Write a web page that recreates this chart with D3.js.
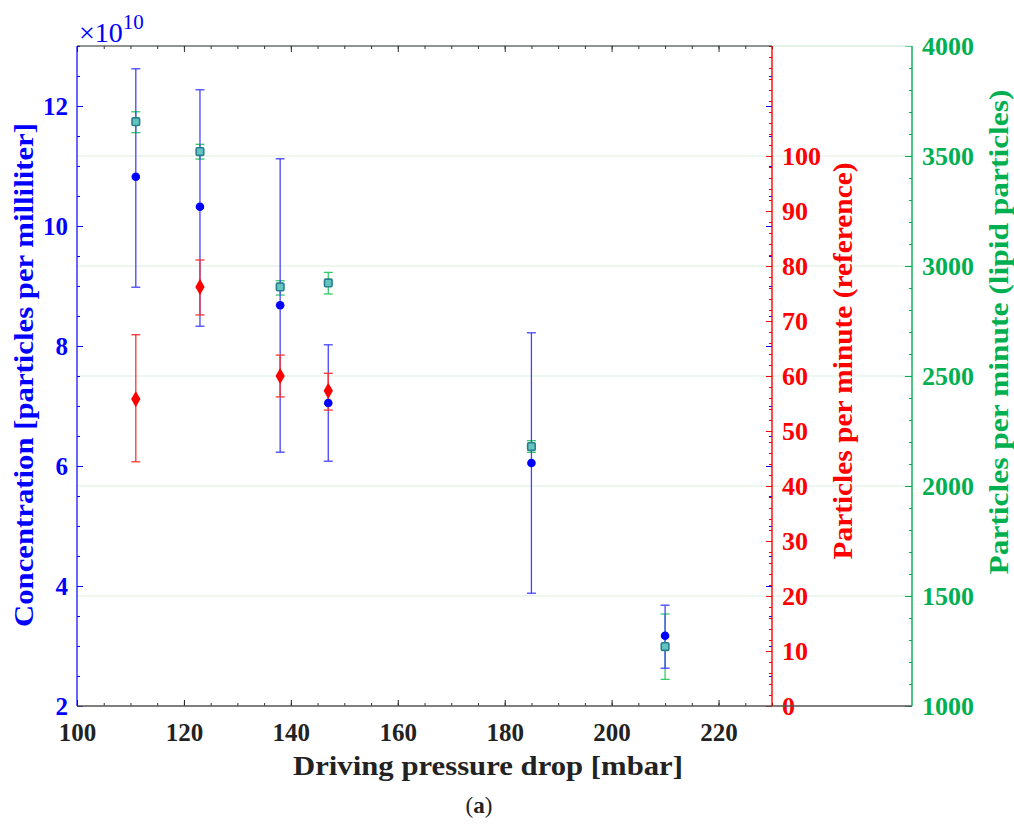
<!DOCTYPE html>
<html><head><meta charset="utf-8">
<script src="https://cdn.jsdelivr.net/npm/d3@7"></script>
<style>body{margin:0;background:#fff}svg{display:block}</style>
</head><body>
<script>
// ---- data ----
const pressure = [111, 123, 138, 147, 185, 210];
const conc   = [10.82, 10.32, 8.68, 7.05, 6.05, 3.17];   // x10^10 particles/ml
const concLo = [8.98, 8.33, 6.23, 6.08, 3.88, 2.63];
const concHi = [12.62, 12.27, 11.12, 8.02, 8.22, 3.68];

const refPressure = [111, 123, 138, 147];
const refRate   = [55.8, 76.2, 60.0, 57.3];
const refRateLo = [44.4, 71.1, 56.2, 53.8];
const refRateHi = [67.5, 81.1, 63.8, 60.5];

const lipidRate   = [3656, 3520, 2905, 2923, 2179, 1270];
const lipidRateLo = [3606, 3486, 2868, 2873, 2153, 1121];
const lipidRateHi = [3701, 3553, 2933, 2971, 2206, 1418];

const xTicks = [100, 120, 140, 160, 180, 200, 220];
const leftTicks = [2, 4, 6, 8, 10, 12];
const redTicks = [0, 10, 20, 30, 40, 50, 60, 70, 80, 90, 100];
const greenTicks = [1000, 1500, 2000, 2500, 3000, 3500, 4000];

// ---- layout ----
const W = 1014, H = 826;
const L = 77, R = 772, G = 912, T = 46, B = 706;
const FONT = "'Liberation Serif', 'DejaVu Serif', serif";
const BLUE = "#0000ff", RED = "#ff0000", GREEN = "#00b050";

const svg = d3.select("body").append("svg").attr("width", W).attr("height", H)
  .style("font-family", FONT);
svg.append("rect").attr("width", W).attr("height", H).attr("fill", "#fff");

const x = d3.scaleLinear().domain([100, 230]).range([L, R]);
const yL = d3.scaleLinear().domain([2, 13]).range([B, T]);
const yR = d3.scaleLinear().domain([0, 120]).range([B, T]);
const yG = d3.scaleLinear().domain([1000, 4000]).range([B, T]);

const range = (a, b, s) => d3.range(a, b + s / 2, s);

// gridlines (green axis majors)
svg.append("g").selectAll("line").data(greenTicks.filter(d => d > 1000)).join("line")
  .attr("x1", L).attr("x2", G).attr("y1", d => yG(d)).attr("y2", d => yG(d))
  .attr("stroke", "#dcefe2").attr("stroke-width", 1.2);

function styleAxis(g, color, fs) {
  g.selectAll("line").attr("stroke", color);
  g.selectAll("path").remove();
  g.selectAll("text").attr("fill", color).attr("font-size", fs).attr("font-weight", "bold")
    .attr("font-family", FONT);
}

// bottom axis
svg.append("g").attr("transform", `translate(0,${B})`)
  .call(d3.axisBottom(x).tickValues(range(100, 230, 5)).tickSize(-3).tickFormat(""))
  .call(g => styleAxis(g, "#333", 0));
svg.append("g").attr("transform", `translate(0,${B})`)
  .call(d3.axisBottom(x).tickValues(xTicks).tickSize(-6).tickPadding(17).tickFormat(d3.format("d")))
  .call(g => styleAxis(g, "#222", "25px"));
// top axis
svg.append("g").attr("transform", `translate(0,${T})`)
  .call(d3.axisTop(x).tickValues(range(100, 230, 5)).tickSize(-3).tickFormat(""))
  .call(g => styleAxis(g, "#333", 0));
svg.append("g").attr("transform", `translate(0,${T})`)
  .call(d3.axisTop(x).tickValues(xTicks).tickSize(-6).tickFormat(""))
  .call(g => styleAxis(g, "#333", 0));

// left axis
svg.append("g").attr("transform", `translate(${L},0)`)
  .call(d3.axisLeft(yL).tickValues(range(2, 13, 0.5)).tickSize(-3).tickFormat(""))
  .call(g => styleAxis(g, BLUE, 0));
svg.append("g").attr("transform", `translate(${L},0)`)
  .call(d3.axisLeft(yL).tickValues(leftTicks).tickSize(-6).tickPadding(9).tickFormat(d3.format("d")))
  .call(g => styleAxis(g, BLUE, "25px"));
// mirrored blue ticks on red axis
svg.append("g").attr("transform", `translate(${R},0)`)
  .call(d3.axisRight(yL).tickValues(range(2.5, 13, 0.5)).tickSize(-3).tickFormat(""))
  .call(g => styleAxis(g, BLUE, 0));
svg.append("g").attr("transform", `translate(${R},0)`)
  .call(d3.axisRight(yL).tickValues(leftTicks.slice(1)).tickSize(-6).tickFormat(""))
  .call(g => styleAxis(g, BLUE, 0));

// red axis
svg.append("g").attr("transform", `translate(${R},0)`)
  .call(d3.axisRight(yR).tickValues(range(0, 120, 2)).tickSize(-3).tickFormat(""))
  .call(g => styleAxis(g, RED, 0));
svg.append("g").attr("transform", `translate(${R},0)`)
  .call(d3.axisRight(yR).tickValues(redTicks).tickSize(-6).tickPadding(10).tickFormat(d3.format("d")))
  .call(g => styleAxis(g, RED, "26px"));

// green axis
svg.append("g").attr("transform", `translate(${G},0)`)
  .call(d3.axisRight(yG).tickValues(range(1000, 4000, 100)).tickSize(-3).tickFormat(""))
  .call(g => styleAxis(g, GREEN, 0));
svg.append("g").attr("transform", `translate(${G},0)`)
  .call(d3.axisRight(yG).tickValues(greenTicks).tickSize(-7).tickPadding(10).tickFormat(d3.format("d")))
  .call(g => styleAxis(g, GREEN, "26px"));

// axis lines
svg.append("line").attr("x1", L).attr("x2", R).attr("y1", T).attr("y2", T).attr("stroke", "#333").attr("stroke-width", 1.2);
svg.append("line").attr("x1", R).attr("x2", G).attr("y1", T).attr("y2", T).attr("stroke", "#dcefe2").attr("stroke-width", 1.2);
svg.append("line").attr("x1", L).attr("x2", G).attr("y1", B).attr("y2", B).attr("stroke", "#555").attr("stroke-width", 1.4);
svg.append("line").attr("x1", L).attr("x2", L).attr("y1", T).attr("y2", B).attr("stroke", BLUE).attr("stroke-width", 1.2);
svg.append("line").attr("x1", R).attr("x2", R).attr("y1", T).attr("y2", B).attr("stroke", RED).attr("stroke-width", 1.4);
svg.append("line").attr("x1", G).attr("x2", G).attr("y1", T).attr("y2", B).attr("stroke", GREEN).attr("stroke-width", 1.4);

// error bars
function errBars(xs, lo, hi, yS, color, w) {
  const g = svg.append("g").attr("stroke", color).attr("stroke-width", w).attr("fill", "none");
  xs.forEach((xv, i) => {
    const cx = x(xv);
    g.append("line").attr("x1", cx).attr("x2", cx).attr("y1", yS(lo[i])).attr("y2", yS(hi[i]));
    [lo[i], hi[i]].forEach(v => g.append("line").attr("x1", cx - 4.5).attr("x2", cx + 4.5)
      .attr("y1", yS(v)).attr("y2", yS(v)));
  });
}
errBars(pressure, lipidRateLo, lipidRateHi, yG, "#33cc66", 1.3);
errBars(pressure, concLo, concHi, yL, "#4444ff", 1.3);
errBars(refPressure, refRateLo, refRateHi, yR, "#ff3333", 1.3);

// markers
svg.append("g").selectAll("circle").data(pressure).join("circle")
  .attr("cx", d => x(d)).attr("cy", (d, i) => yL(conc[i])).attr("r", 4.3).attr("fill", BLUE);
svg.append("g").selectAll("path").data(refPressure).join("path")
  .attr("d", d3.symbol(d3.symbolDiamond, 75))
  .attr("transform", (d, i) => `translate(${x(d)},${yR(refRate[i])})`).attr("fill", RED);
svg.append("g").selectAll("rect").data(pressure).join("rect")
  .attr("x", d => x(d) - 3.8).attr("y", (d, i) => yG(lipidRate[i]) - 3.8)
  .attr("width", 7.6).attr("height", 7.6).attr("rx", 1.2)
  .attr("fill", "#63c3c0").attr("stroke", "#2a7f8c").attr("stroke-width", 1.6);

// titles (stretched to the reference's text lengths)
function title(tx, ty, rot, color, target, str) {
  return svg.append("text")
    .attr("transform", `translate(${tx},${ty})` + (rot ? " rotate(-90)" : ""))
    .attr("text-anchor", "middle").attr("font-family", FONT)
    .attr("font-size", "28px").attr("font-weight", "bold").attr("fill", color)
    .attr("textLength", target).attr("lengthAdjust", "spacingAndGlyphs").text(str);
}
title(488, 775, false, "#222", 390, "Driving pressure drop [mbar]");
title(33, 375, true, BLUE, 504, "Concentration [particles per milliliter]");
title(852, 361, true, RED, 397, "Particles per minute (reference)");
title(1008, 332, true, GREEN, 485, "Particles per minute (lipid particles)");

// exponent
const ex = svg.append("text").attr("x", 79).attr("y", 42).attr("fill", BLUE).attr("font-size", "28px");
ex.append("tspan").text("×10");
ex.append("tspan").attr("dy", -13).attr("font-size", "21px").text("10");

// caption
const cap = svg.append("text").attr("x", 479).attr("y", 813).attr("text-anchor", "middle")
  .attr("font-size", "23px").attr("fill", "#222");
cap.append("tspan").text("(");
cap.append("tspan").attr("font-weight", "bold").text("a");
cap.append("tspan").text(")");
</script>
</body></html>
